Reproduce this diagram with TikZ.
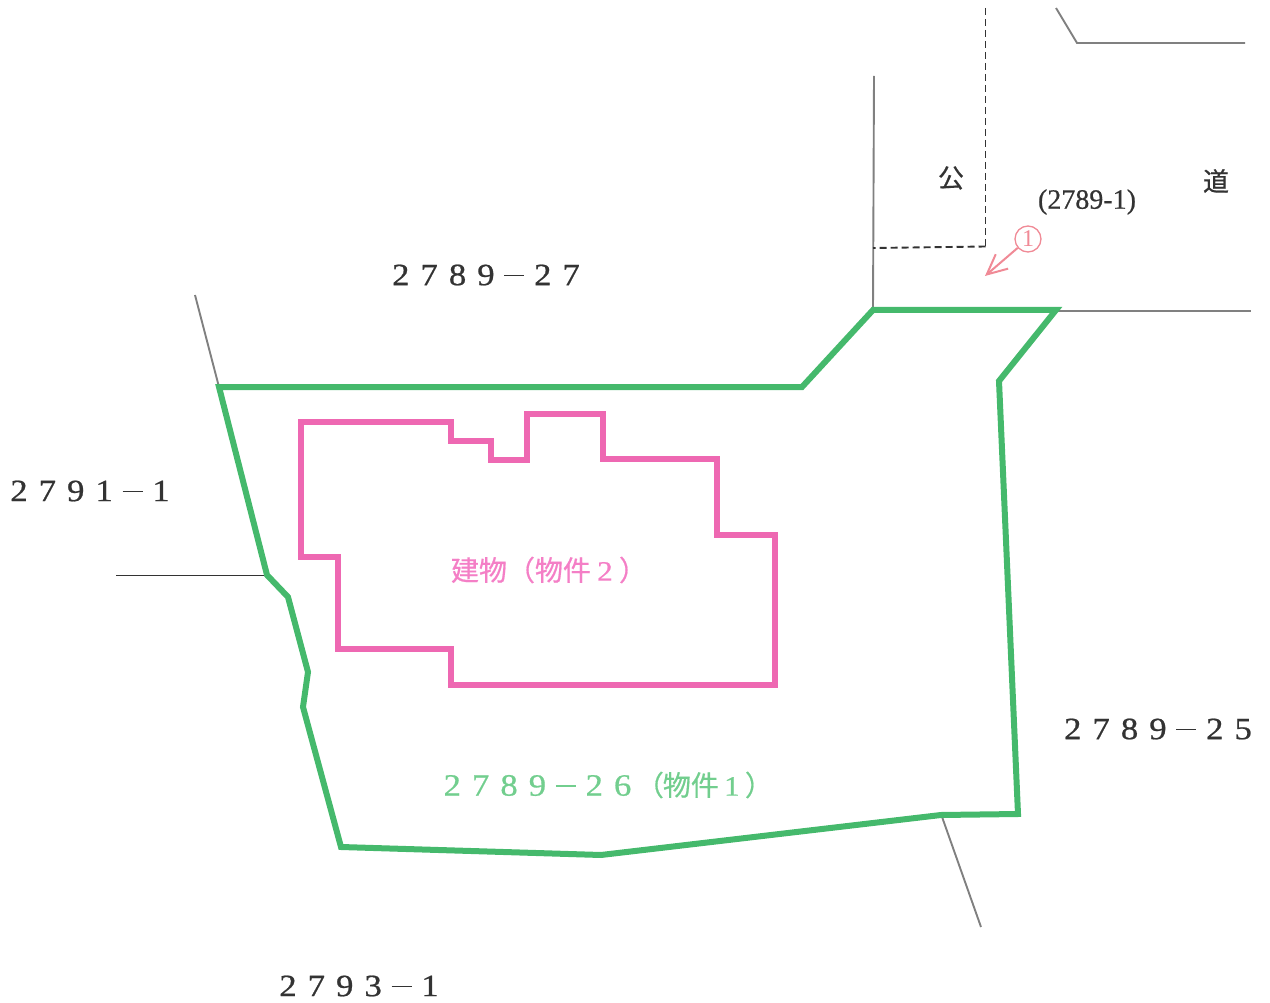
\documentclass[tikz,border=0pt]{standalone}
\usepackage{fontspec}
\setmainfont{Liberation Serif}
\newfontfamily\cjk[FakeBold=0.6]{Noto Sans CJK JP}
\newfontfamily\wdig[FakeStretch=1.12,FakeBold=0.7]{Liberation Serif}
\newfontfamily\pubfont[FakeBold=0.5]{Liberation Serif}
\usetikzlibrary{arrows.meta}
\definecolor{bgreen}{HTML}{45B96C}
\definecolor{tgreen}{HTML}{72CE8E}
\definecolor{bpink}{HTML}{EE68B2}
\definecolor{tpink}{HTML}{F47FC6}
\definecolor{lgray}{HTML}{808080}
\definecolor{ink}{HTML}{333333}
\definecolor{arrowred}{HTML}{F08A96}
\newcommand{\Cl}[1]{\makebox[28.4pt][c]{#1}}
\newcommand{\Dsh}{\makebox[28.4pt][c]{\raisebox{9pt}{\rule{20pt}{1.6pt}}}}
\newcommand{\Digits}[1]{\wdig\fontsize{31}{31}\selectfont #1}
\tikzset{
  x=1pt,y=-1pt,
  thinline/.style={draw=lgray,line width=1.9pt},
  darkline/.style={draw=ink,line width=1.4pt},
  dashline/.style={draw=ink,line width=1.9pt,dash pattern=on 7pt off 4pt},
  boundary/.style={draw=bgreen,line width=6pt,line join=miter},
  building/.style={draw=bpink,line width=5.4pt,line join=miter},
  lbl/.style={inner sep=0pt,text=ink,anchor=center},
}
\begin{document}
\begin{tikzpicture}
\useasboundingbox (0,0) rectangle (1270,1003);
% thin lines
\draw[thinline] (874,76) -- (873,310);
\draw[thinline] (1056,311) -- (1251,311);
\draw[thinline] (1056,8) -- (1077,43) -- (1245,43);
\draw[thinline] (195,295) -- (219,387);
\draw[darkline] (116,575.5) -- (267,575.5);
\draw[thinline] (941,814) -- (981,927);
\draw[dashline] (985.5,8) -- (985.5,246);
\draw[dashline] (985.5,246.5) -- (873,248);
% parcel
\draw[boundary] (219,387) -- (802,387) -- (873,310) -- (1056,310) -- (999,381)
  -- (1018,814) -- (941,815) -- (601,855) -- (341,847) -- (303,707) -- (308,672)
  -- (288,597) -- (267,575) -- cycle;
% building
\draw[building] (301,422) -- (451,422) -- (451,441) -- (491,441) -- (491,460)
  -- (527,460) -- (527,414) -- (603,414) -- (603,459) -- (717,459) -- (717,535)
  -- (775,535) -- (775,685) -- (451,685) -- (451,649) -- (338,649) -- (338,557)
  -- (301,557) -- cycle;
% labels
\node[lbl] (n27) at (486,275) {\Digits{\Cl{2}\Cl{7}\Cl{8}\Cl{9}\Dsh\Cl{2}\Cl{7}}};
\node[lbl] (n91) at (90,491) {\Digits{\Cl{2}\Cl{7}\Cl{9}\Cl{1}\Dsh\Cl{1}}};
\node[lbl] (n25) at (1158,729) {\Digits{\Cl{2}\Cl{7}\Cl{8}\Cl{9}\Dsh\Cl{2}\Cl{5}}};
\node[lbl] (n93) at (359,986) {\Digits{\Cl{2}\Cl{7}\Cl{9}\Cl{3}\Dsh\Cl{1}}};
\node[lbl] (ko) at (951,178) {\cjk\fontsize{26}{26}\selectfont 公};
\node[lbl] (do) at (1216,181) {\cjk\fontsize{26}{26}\selectfont 道};
\node[lbl] (pub) at (1087,202) {\pubfont\fontsize{28}{28}\selectfont (2789-1)};
\node[lbl,text=tpink] (bld) at (542,570) {\cjk\fontsize{28}{28}\selectfont 建物\makebox[28pt][c]{（}物件\makebox[28pt][c]{\wdig 2}\makebox[14pt][l]{）}};
\node[lbl,text=tgreen] (par) at (598.5,785) {\Digits{\Cl{2}\Cl{7}\Cl{8}\Cl{9}\Dsh\Cl{2}\Cl{6}}\cjk\fontsize{28}{28}\selectfont\makebox[26pt][c]{（}物件\makebox[26pt][c]{\wdig 1}\makebox[14pt][l]{）}};
% marker
\node[circle,draw=arrowred,line width=1.3pt,minimum size=26pt,inner sep=0pt,text=arrowred] (one) at (1028,239) {\fontsize{24}{24}\selectfont 1};
\coordinate (tip) at (985,276);
\draw[draw=arrowred,line width=2pt,-{Straight Barb[length=20pt,width=19pt]}] (one) -- (tip);
\end{tikzpicture}
\end{document}
